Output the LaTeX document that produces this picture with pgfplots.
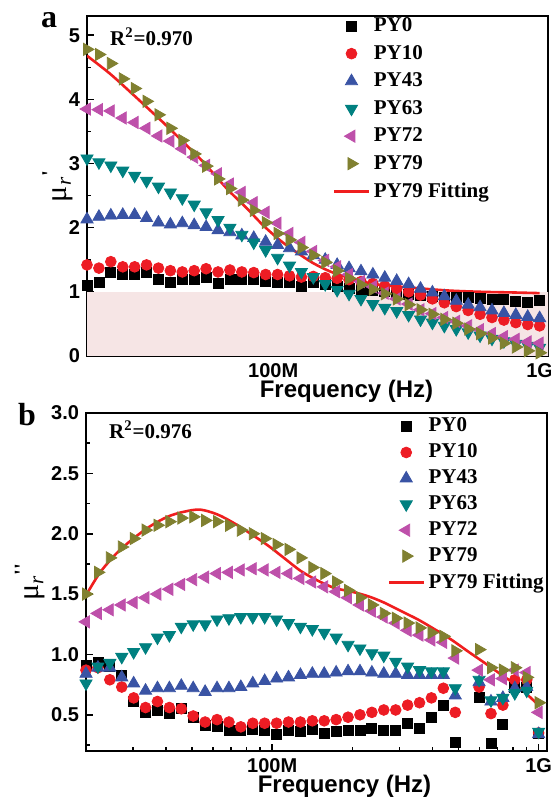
\documentclass[border=0pt]{standalone}
\usepackage{fontspec}
\setmainfont{Liberation Serif}
\setsansfont{Liberation Sans}
\usepackage{pgfplots}
\usepackage{pgfplotstable}
\pgfplotsset{compat=1.18}

\definecolor{cPY0}{RGB}{0,0,0}
\definecolor{cPY10}{RGB}{237,28,36}
\definecolor{cPY43}{RGB}{57,83,164}
\definecolor{cPY63}{RGB}{0,128,128}
\definecolor{cPY72}{RGB}{190,80,170}
\definecolor{cPY79}{RGB}{128,128,48}
\definecolor{cfit}{RGB}{240,30,30}
\definecolor{pinkband}{RGB}{246,229,229}

% frequency in MHz
\pgfplotstableread{
f       py0  py10 py43 py63 py72 py79
20.00   1.10 1.42 2.13 3.08 3.85 4.78
22.17   1.14 1.37 2.17 3.02 3.84 4.70
24.57   1.30 1.47 2.19 2.97 3.82 4.56
27.24   1.27 1.39 2.20 2.89 3.71 4.32
30.19   1.27 1.39 2.20 2.81 3.64 4.17
33.46   1.31 1.42 2.15 2.73 3.55 3.97
37.09   1.20 1.37 2.08 2.64 3.43 3.76
41.11   1.14 1.33 2.05 2.55 3.35 3.55
45.57   1.20 1.31 2.07 2.46 3.23 3.36
50.51   1.19 1.33 2.04 2.36 3.10 3.15
55.99   1.22 1.36 2.01 2.24 2.97 2.96
62.06   1.13 1.31 1.96 2.12 2.84 2.76
68.79   1.19 1.34 1.93 2.00 2.68 2.61
76.25   1.19 1.31 1.88 1.89 2.55 2.43
84.52   1.19 1.30 1.84 1.77 2.39 2.27
93.68   1.17 1.27 1.78 1.65 2.24 2.08
103.84  1.14 1.27 1.73 1.53 2.07 1.91
115.10  1.14 1.25 1.68 1.41 1.91 1.81
127.58  1.08 1.23 1.63 1.31 1.77 1.69
141.42  1.14 1.24 1.57 1.23 1.63 1.57
156.75  1.11 1.22 1.50 1.12 1.49 1.46
173.75  1.08 1.21 1.42 1.03 1.39 1.33
192.59  1.06 1.19 1.37 0.97 1.27 1.21
213.47  1.04 1.16 1.32 0.89 1.16 1.11
236.62  1.03 1.13 1.27 0.81 1.08 1.04
262.28  1.00 1.09 1.22 0.75 0.98 0.97
290.72  0.98 1.05 1.17 0.70 0.89 0.89
322.24  0.96 1.00 1.12 0.64 0.81 0.80
357.18  0.95 0.95 1.05 0.57 0.72 0.72
395.91  0.93 0.89 0.99 0.52 0.66 0.65
438.84  0.92 0.83 0.93 0.47 0.60 0.57
486.43  0.91 0.77 0.86 0.42 0.54 0.51
539.17  0.91 0.71 0.80 0.37 0.47 0.42
597.64  0.90 0.65 0.76 0.32 0.41 0.35
662.44  0.88 0.60 0.71 0.27 0.35 0.28
734.27  0.88 0.56 0.67 0.23 0.30 0.20
813.89  0.85 0.52 0.64 0.19 0.26 0.14
902.15  0.84 0.49 0.61 0.16 0.22 0.08
1000.0  0.86 0.47 0.59 0.13 0.20 0.05
}\realdata

\pgfplotstableread{
f       py0  py10 py43 py63 py72 py79
20.00   0.91 0.87 0.84 0.76 1.27 1.50
22.17   0.93 0.89 0.89 0.90 1.34 1.68
24.57   0.90 0.79 0.89 0.93 1.37 1.80
27.24   0.83 0.73 0.81 0.98 1.41 1.89
30.19   0.61 0.64 0.76 1.02 1.43 1.96
33.46   0.52 0.56 0.70 1.06 1.47 2.03
37.09   0.54 0.61 0.72 1.14 1.50 2.07
41.11   0.51 0.56 0.72 1.16 1.54 2.10
45.57   0.55 0.55 0.74 1.23 1.58 2.13
50.51   0.48 0.49 0.72 1.25 1.62 2.14
55.99   0.41 0.44 0.69 1.25 1.64 2.11
62.06   0.40 0.46 0.72 1.29 1.67 2.10
68.79   0.37 0.44 0.72 1.30 1.68 2.07
76.25   0.37 0.40 0.73 1.31 1.70 2.03
84.52   0.38 0.43 0.76 1.31 1.71 2.00
93.68   0.37 0.43 0.78 1.31 1.70 1.96
103.84  0.34 0.43 0.80 1.29 1.68 1.91
115.10  0.37 0.44 0.81 1.26 1.67 1.87
127.58  0.36 0.44 0.83 1.23 1.63 1.80
141.42  0.38 0.45 0.84 1.21 1.60 1.72
156.75  0.35 0.45 0.84 1.18 1.56 1.67
173.75  0.36 0.46 0.85 1.14 1.52 1.60
192.59  0.37 0.48 0.86 1.08 1.47 1.53
213.47  0.37 0.50 0.86 1.05 1.41 1.47
236.62  0.39 0.52 0.85 1.01 1.36 1.41
262.28  0.37 0.54 0.84 0.99 1.31 1.34
290.72  0.37 0.54 0.84 0.94 1.26 1.30
322.24  0.43 0.58 0.83 0.90 1.20 1.26
357.18  0.39 0.60 0.83 0.87 1.16 1.22
395.91  0.48 0.64 0.83 0.86 1.12 1.18
438.84  0.58 0.72 0.83 0.86 1.10 1.15
486.43  0.27 0.52 0.66 0.72 0.97 1.03
597.64  0.64 0.73 0.77 0.79 0.87 1.04
662.44  0.26 0.51 0.61 0.62 0.79 0.89
734.27  0.42 0.58 0.64 0.64 0.80 0.87
813.89  0.73 0.79 0.72 0.68 0.87 0.89
902.15  0.73 0.79 0.73 0.70 0.85 0.81
1000.0  0.35 0.35 0.34 0.36 0.52 0.60
}\imagdata

\pgfplotsset{
  mysq/.style={only marks, mark=square*, color=cPY0, mark size=2.5pt},
  myci/.style={only marks, mark=*, color=cPY10, mark size=2.7pt},
  mytu/.style={only marks, mark=triangle*, color=cPY43, mark size=3.5pt},
  mytd/.style={only marks, mark=triangle*, color=cPY63, mark size=3.5pt, mark options={rotate=180}},
  mytl/.style={only marks, mark=triangle*, color=cPY72, mark size=3.5pt, mark options={rotate=90}},
  mytr/.style={only marks, mark=triangle*, color=cPY79, mark size=3.5pt, mark options={rotate=-90}},
  myfit/.style={no marks, color=cfit, line width=1.3pt, smooth},
}

\begin{document}
\begin{tikzpicture}
\useasboundingbox (0,0) rectangle (275.5pt,-399.5pt);

\begin{axis}[at={(43.5pt,-8pt)}, anchor=north west,
  scale only axis, width=230.5pt, height=170pt,
  xmode=log, xmin=20, xmax=1075,
  axis line style={line width=1pt},
  tick align=inside, xtick pos=bottom, ytick pos=left,
  xtick={100,1000}, xticklabels={100M,1G},
  minor xtick={30,40,50,60,70,80,90,200,300,400,500,600,700,800,900},
  major tick length=3.5pt, minor tick length=2pt,
  tick style={black, line width=0.8pt},
  ticklabel style={font=\sffamily\bfseries\fontsize{10}{12}\selectfont},
  /pgf/number format/assume math mode=true,
  xlabel={Frequency (Hz)},
  xlabel style={font=\sffamily\bfseries\fontsize{12}{14}\selectfont, inner sep=0.5pt, xshift=14.5pt, yshift=2.5pt},
  legend cell align=left,
  legend style={draw=none, fill=none, font=\bfseries\fontsize{10.5}{12}\selectfont,
    row sep=1.3pt, at={(0.52,1.02)}, anchor=north west},
  ymin=0, ymax=5.3, ytick={0,1,2,3,4,5},
  minor ytick={0.5,1.5,2.5,3.5,4.5},
  ylabel={μ\textsubscript{\textit{r}}\textsuperscript{\textbf{\textquotesingle}}},
  ylabel style={font=\fontsize{15}{15}\selectfont},
  ylabel shift=-9pt,
]
\addplot[draw=none, fill=pinkband, forget plot] coordinates {(10,1) (2000,1)} \closedcycle;
\addplot[mysq] table[x=f, y=py0] {\realdata}; \addlegendentry{PY0}
\addplot[myci] table[x=f, y=py10] {\realdata}; \addlegendentry{PY10}
\addplot[mytu] table[x=f, y=py43] {\realdata}; \addlegendentry{PY43}
\addplot[mytd] table[x=f, y=py63] {\realdata}; \addlegendentry{PY63}
\addplot[mytl] table[x=f, y=py72] {\realdata}; \addlegendentry{PY72}
\addplot[mytr] table[x=f, y=py79] {\realdata}; \addlegendentry{PY79}
\addplot[myfit] coordinates {(20,4.68) (24.4,4.40) (29.7,4.08) (34.5,3.83) (40,3.58)
  (53,3.08) (59.2,2.86) (68,2.58) (79.3,2.31) (91,2.05) (105.6,1.81) (122,1.62)
  (140.9,1.45) (163,1.32) (188.5,1.23) (217,1.16) (250,1.11) (342,1.06)
  (457,1.02) (609,1.0) (800,0.99) (1000,0.98)};
\addlegendentry{PY79 Fitting}
\node[anchor=west, font=\bfseries\fontsize{10.5}{12}\selectfont] at (rel axis cs:0.035,0.94) {R\textsuperscript{2}=0.970};
\end{axis}

\begin{axis}[at={(43pt,-206.5pt)}, anchor=north west,
  scale only axis, width=230.5pt, height=169pt,
  xmode=log, xmin=20, xmax=1075,
  axis line style={line width=1pt},
  tick align=inside, xtick pos=bottom, ytick pos=left,
  xtick={100,1000}, xticklabels={100M,1G},
  minor xtick={30,40,50,60,70,80,90,200,300,400,500,600,700,800,900},
  major tick length=3.5pt, minor tick length=2pt,
  tick style={black, line width=0.8pt},
  ticklabel style={font=\sffamily\bfseries\fontsize{10}{12}\selectfont},
  /pgf/number format/assume math mode=true,
  xlabel={Frequency (Hz)},
  xlabel style={font=\sffamily\bfseries\fontsize{12}{14}\selectfont, inner sep=0.5pt, xshift=14pt, yshift=2.5pt},
  legend cell align=left,
  legend style={draw=none, fill=none, font=\bfseries\fontsize{10.5}{12}\selectfont,
    row sep=0.5pt, at={(1.015,1.01)}, anchor=north east},
  ymin=0.2, ymax=3.0, ytick={0.5,1.0,1.5,2.0,2.5,3.0},
  minor ytick={0.25,0.75,1.25,1.75,2.25,2.75},
  yticklabel={\pgfmathprintnumber[fixed,fixed zerofill,precision=1]{\tick}},
  ylabel={μ\textsubscript{\textit{r}}\textsuperscript{\textbf{\textquotesingle\textquotesingle}}},
  ylabel style={font=\fontsize{15}{15}\selectfont},
  ylabel shift=-4pt,
]
\addplot[mysq] table[x=f, y=py0] {\imagdata}; \addlegendentry{PY0}
\addplot[myci] table[x=f, y=py10] {\imagdata}; \addlegendentry{PY10}
\addplot[mytu] table[x=f, y=py43] {\imagdata}; \addlegendentry{PY43}
\addplot[mytd] table[x=f, y=py63] {\imagdata}; \addlegendentry{PY63}
\addplot[mytl] table[x=f, y=py72] {\imagdata}; \addlegendentry{PY72}
\addplot[mytr] table[x=f, y=py79] {\imagdata}; \addlegendentry{PY79}
\addplot[myfit] coordinates {(20,1.49) (22.6,1.68) (26.1,1.84) (30.1,1.96) (34.7,2.06)
  (40.4,2.14) (46.2,2.18) (53.5,2.20) (62.2,2.16) (71.6,2.09) (83,2.0) (96.7,1.90)
  (110.6,1.80) (128.3,1.69) (148.7,1.61) (171.6,1.55) (198.9,1.52) (230.5,1.48)
  (262.6,1.43) (304,1.36) (352,1.29) (406,1.21) (472,1.12) (547,1.02) (627,0.93)
  (727,0.83) (842,0.73) (1000,0.58)};
\addlegendentry{PY79 Fitting}
\node[anchor=west, font=\bfseries\fontsize{10.5}{12}\selectfont] at (rel axis cs:0.035,0.95) {R\textsuperscript{2}=0.976};
\end{axis}

\node[anchor=base, font=\bfseries\fontsize{16}{16}\selectfont] at (24.5pt,-13.5pt) {a};
\node[anchor=base, font=\bfseries\fontsize{16}{16}\selectfont] at (13.5pt,-212.5pt) {b};
\end{tikzpicture}
\end{document}
